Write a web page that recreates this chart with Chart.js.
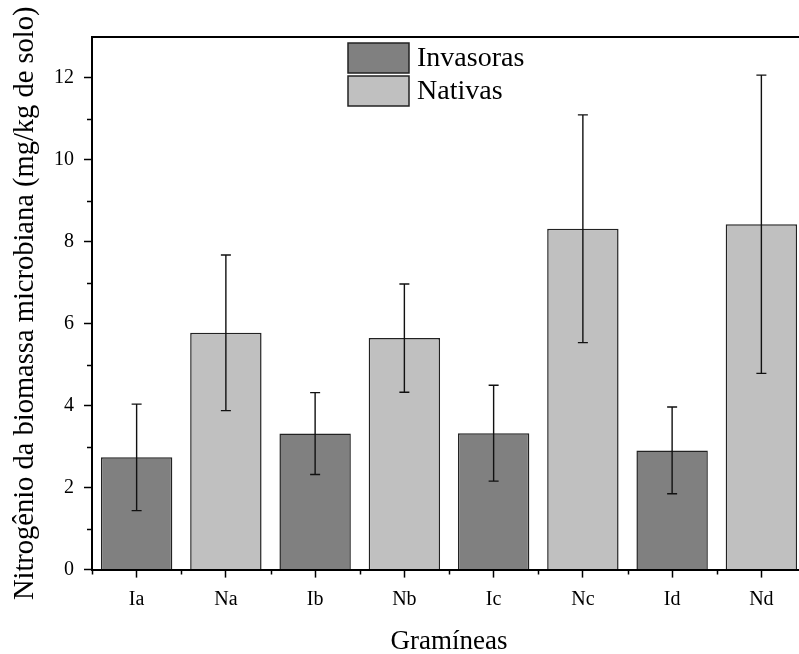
<!DOCTYPE html>
<html>
<head>
<meta charset="utf-8">
<script src="https://cdn.jsdelivr.net/npm/chart.js@4.4.1/dist/chart.umd.min.js"></script>
<style>
  html, body { margin: 0; padding: 0; background: #fff; overflow: hidden; }
  #wrap { width: 808px; height: 662px; }
</style>
</head>
<body>
<div id="wrap"><canvas id="myChart"></canvas></div>
<script>
// data
const labels = ['Ia', 'Na', 'Ib', 'Nb', 'Ic', 'Nc', 'Id', 'Nd'];
const invasoras = [2.74, null, 3.32, null, 3.33, null, 2.91, null];
const nativas = [null, 5.78, null, 5.65, null, 8.32, null, 8.43];
const erros = [1.30, 1.90, 1.00, 1.32, 1.17, 2.78, 1.06, 3.64];
const yTicks = [0, 2, 4, 6, 8, 10, 12];

const FONT = "'Liberation Serif', 'Times New Roman', serif";

const frame = {
  id: 'frame',
  afterDatasetsDraw: (chart) => {
    const { ctx, chartArea: { left, right, top, bottom }, scales: { x, y } } = chart;
    ctx.save();
    // error bars
    ctx.strokeStyle = '#111';
    ctx.lineWidth = 1.4;
    labels.forEach((l, i) => {
      const v = invasoras[i] != null ? invasoras[i] : nativas[i];
      const cx = x.getPixelForValue(i);
      const y1 = y.getPixelForValue(v + erros[i]);
      const y2 = y.getPixelForValue(v - erros[i]);
      ctx.beginPath();
      ctx.moveTo(cx, y1); ctx.lineTo(cx, y2);
      ctx.moveTo(cx - 5, y1); ctx.lineTo(cx + 5, y1);
      ctx.moveTo(cx - 5, y2); ctx.lineTo(cx + 5, y2);
      ctx.stroke();
    });
    // top line
    ctx.strokeStyle = '#000';
    ctx.lineWidth = 2;
    ctx.beginPath();
    ctx.moveTo(left - 1, top); ctx.lineTo(right, top);
    ctx.stroke();
    // minor ticks
    ctx.lineWidth = 1.5;
    ctx.beginPath();
    for (let v = 1; v < 13; v += 2) {
      const py = Math.round(y.getPixelForValue(v)) + 0.5;
      ctx.moveTo(left - 5, py); ctx.lineTo(left, py);
    }
    for (let i = 0; i <= labels.length; i++) {
      const px = Math.round(x.getPixelForValue(i - 0.5)) + 0.5;
      ctx.moveTo(px, bottom); ctx.lineTo(px, bottom + 5);
    }
    ctx.stroke();
    // legend
    const items = chart.data.datasets;
    const lx = left + 256, ly = top + 6;
    ctx.font = '28px ' + FONT;
    ctx.textBaseline = 'middle';
    items.forEach((ds, k) => {
      const by = ly + k * 33;
      ctx.fillStyle = ds.backgroundColor;
      ctx.fillRect(lx, by, 61, 30);
      ctx.lineWidth = 1.5;
      ctx.strokeStyle = '#222';
      ctx.strokeRect(lx, by, 61, 30);
      ctx.fillStyle = '#000';
      ctx.fillText(ds.label, lx + 69, by + 16);
    });
    ctx.restore();
  }
};

const config = {
  type: 'bar',
  data: {
    labels: labels,
    datasets: [
      {
        label: 'Invasoras',
        data: invasoras,
        backgroundColor: '#808080',
        borderColor: '#222',
        borderWidth: 1.5,
        borderSkipped: 'bottom',
      },
      {
        label: 'Nativas',
        data: nativas,
        backgroundColor: '#c0c0c0',
        borderColor: '#222',
        borderWidth: 1.5,
        borderSkipped: 'bottom',
      }
    ]
  },
  options: {
    responsive: true,
    maintainAspectRatio: false,
    animation: false,
    layout: { padding: { top: 37, right: 2, left: 8, bottom: 0 } },
    datasets: { bar: { grouped: false, barPercentage: 0.8, categoryPercentage: 1 } },
    scales: {
      x: {
        grid: {
          offset: false,
          drawOnChartArea: false,
          tickLength: 8,
          tickWidth: 1.5,
          tickColor: '#000',
        },
        border: { color: '#000', width: 2 },
        ticks: { color: '#000', font: { family: FONT, size: 20 }, padding: 10 },
        title: {
          display: true,
          text: 'Gramíneas',
          color: '#000',
          font: { family: FONT, size: 27 },
          padding: { top: 4 }
        }
      },
      y: {
        min: 0,
        max: 13,
        afterFit: (scale) => { scale.width = 84; },
        grid: {
          drawOnChartArea: false,
          tickLength: 8,
          tickWidth: 1.5,
          tickColor: (c) => (c.tick && c.tick.value % 2 === 0 ? '#000' : 'transparent'),
        },
        border: { color: '#000', width: 2 },
        ticks: {
          stepSize: 1,
          color: '#000',
          font: { family: FONT, size: 20 },
          padding: 10,
          callback: (v) => (yTicks.includes(v) ? v : '')
        },
        title: {
          display: true,
          text: 'Nitrogênio da biomassa microbiana (mg/kg de solo)',
          color: '#000',
          font: { family: FONT, size: 28.5 },
          padding: 0
        }
      }
    },
    plugins: {
      legend: { display: false },
      tooltip: { enabled: false }
    }
  },
  plugins: [frame]
};

new Chart(document.getElementById('myChart').getContext('2d'), config);
</script>
</body>
</html>
